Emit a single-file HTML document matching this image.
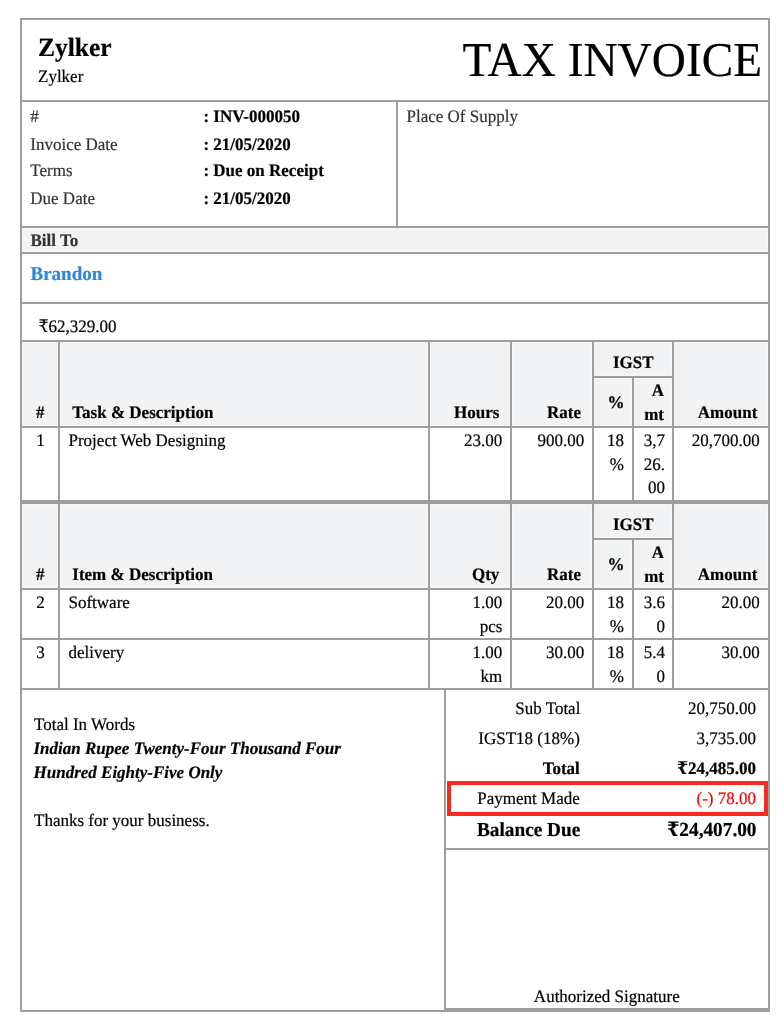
<!DOCTYPE html>
<html><head><meta charset="utf-8"><title>TAX INVOICE</title>
<style>
html,body{margin:0;padding:0;background:#fff;}
body{width:784px;height:1024px;overflow:hidden;}
svg{display:block;}
svg text{font-family:'Liberation Serif', 'DejaVu Serif Condensed', 'DejaVu Serif', serif;text-rendering:geometricPrecision;stroke:currentColor;stroke-width:0.2px;}
</style></head><body>
<svg width="784" height="1024" viewBox="0 0 784 1024">
<rect x="0" y="0" width="784" height="1024" fill="#fff"/>

<rect x="22" y="228" width="746" height="24" fill="#f6f7f8" shape-rendering="crispEdges"/>
<rect x="23" y="229" width="744" height="22" fill="#f2f3f4" shape-rendering="crispEdges"/>
<rect x="22" y="342" width="36" height="84" fill="#f6f7f8" shape-rendering="crispEdges"/>
<rect x="23" y="343" width="34" height="82" fill="#f2f3f4" shape-rendering="crispEdges"/>
<rect x="60" y="342" width="368" height="84" fill="#f6f7f8" shape-rendering="crispEdges"/>
<rect x="61" y="343" width="366" height="82" fill="#f2f3f4" shape-rendering="crispEdges"/>
<rect x="430" y="342" width="80" height="84" fill="#f6f7f8" shape-rendering="crispEdges"/>
<rect x="431" y="343" width="78" height="82" fill="#f2f3f4" shape-rendering="crispEdges"/>
<rect x="512" y="342" width="80" height="84" fill="#f6f7f8" shape-rendering="crispEdges"/>
<rect x="513" y="343" width="78" height="82" fill="#f2f3f4" shape-rendering="crispEdges"/>
<rect x="674" y="342" width="94" height="84" fill="#f6f7f8" shape-rendering="crispEdges"/>
<rect x="675" y="343" width="92" height="82" fill="#f2f3f4" shape-rendering="crispEdges"/>
<rect x="594" y="342" width="78" height="34" fill="#f6f7f8" shape-rendering="crispEdges"/>
<rect x="595" y="343" width="76" height="32" fill="#f2f3f4" shape-rendering="crispEdges"/>
<rect x="594" y="378" width="38" height="48" fill="#f6f7f8" shape-rendering="crispEdges"/>
<rect x="595" y="379" width="36" height="46" fill="#f2f3f4" shape-rendering="crispEdges"/>
<rect x="634" y="378" width="38" height="48" fill="#f6f7f8" shape-rendering="crispEdges"/>
<rect x="635" y="379" width="36" height="46" fill="#f2f3f4" shape-rendering="crispEdges"/>
<rect x="22" y="504" width="36" height="84" fill="#f6f7f8" shape-rendering="crispEdges"/>
<rect x="23" y="505" width="34" height="82" fill="#f2f3f4" shape-rendering="crispEdges"/>
<rect x="60" y="504" width="368" height="84" fill="#f6f7f8" shape-rendering="crispEdges"/>
<rect x="61" y="505" width="366" height="82" fill="#f2f3f4" shape-rendering="crispEdges"/>
<rect x="430" y="504" width="80" height="84" fill="#f6f7f8" shape-rendering="crispEdges"/>
<rect x="431" y="505" width="78" height="82" fill="#f2f3f4" shape-rendering="crispEdges"/>
<rect x="512" y="504" width="80" height="84" fill="#f6f7f8" shape-rendering="crispEdges"/>
<rect x="513" y="505" width="78" height="82" fill="#f2f3f4" shape-rendering="crispEdges"/>
<rect x="674" y="504" width="94" height="84" fill="#f6f7f8" shape-rendering="crispEdges"/>
<rect x="675" y="505" width="92" height="82" fill="#f2f3f4" shape-rendering="crispEdges"/>
<rect x="594" y="504" width="78" height="34" fill="#f6f7f8" shape-rendering="crispEdges"/>
<rect x="595" y="505" width="76" height="32" fill="#f2f3f4" shape-rendering="crispEdges"/>
<rect x="594" y="540" width="38" height="48" fill="#f6f7f8" shape-rendering="crispEdges"/>
<rect x="595" y="541" width="36" height="46" fill="#f2f3f4" shape-rendering="crispEdges"/>
<rect x="634" y="540" width="38" height="48" fill="#f6f7f8" shape-rendering="crispEdges"/>
<rect x="635" y="541" width="36" height="46" fill="#f2f3f4" shape-rendering="crispEdges"/>
<rect x="20" y="18" width="750" height="2" fill="#9e9e9e" shape-rendering="crispEdges"/>
<rect x="20" y="18" width="2" height="994" fill="#9e9e9e" shape-rendering="crispEdges"/>
<rect x="768" y="18" width="2" height="994" fill="#9e9e9e" shape-rendering="crispEdges"/>
<rect x="20" y="1010" width="426" height="2" fill="#9e9e9e" shape-rendering="crispEdges"/>
<rect x="444" y="1008" width="326" height="4" fill="#9e9e9e" shape-rendering="crispEdges"/>
<rect x="20" y="100" width="750" height="2" fill="#9e9e9e" shape-rendering="crispEdges"/>
<rect x="20" y="226" width="750" height="2" fill="#9e9e9e" shape-rendering="crispEdges"/>
<rect x="20" y="252" width="750" height="2" fill="#9e9e9e" shape-rendering="crispEdges"/>
<rect x="20" y="302" width="750" height="2" fill="#9e9e9e" shape-rendering="crispEdges"/>
<rect x="20" y="340" width="750" height="2" fill="#9e9e9e" shape-rendering="crispEdges"/>
<rect x="20" y="426" width="750" height="2" fill="#9e9e9e" shape-rendering="crispEdges"/>
<rect x="20" y="588" width="750" height="2" fill="#9e9e9e" shape-rendering="crispEdges"/>
<rect x="20" y="638" width="750" height="2" fill="#9e9e9e" shape-rendering="crispEdges"/>
<rect x="20" y="688" width="750" height="2" fill="#9e9e9e" shape-rendering="crispEdges"/>
<rect x="20" y="500" width="750" height="4" fill="#9e9e9e" shape-rendering="crispEdges"/>
<rect x="396" y="100" width="2" height="128" fill="#9e9e9e" shape-rendering="crispEdges"/>
<rect x="58" y="340" width="2" height="162" fill="#9e9e9e" shape-rendering="crispEdges"/>
<rect x="428" y="340" width="2" height="162" fill="#9e9e9e" shape-rendering="crispEdges"/>
<rect x="510" y="340" width="2" height="162" fill="#9e9e9e" shape-rendering="crispEdges"/>
<rect x="592" y="340" width="2" height="162" fill="#9e9e9e" shape-rendering="crispEdges"/>
<rect x="672" y="340" width="2" height="162" fill="#9e9e9e" shape-rendering="crispEdges"/>
<rect x="58" y="502" width="2" height="188" fill="#9e9e9e" shape-rendering="crispEdges"/>
<rect x="428" y="502" width="2" height="188" fill="#9e9e9e" shape-rendering="crispEdges"/>
<rect x="510" y="502" width="2" height="188" fill="#9e9e9e" shape-rendering="crispEdges"/>
<rect x="592" y="502" width="2" height="188" fill="#9e9e9e" shape-rendering="crispEdges"/>
<rect x="672" y="502" width="2" height="188" fill="#9e9e9e" shape-rendering="crispEdges"/>
<rect x="594" y="376" width="78" height="2" fill="#9e9e9e" shape-rendering="crispEdges"/>
<rect x="632" y="376" width="2" height="124" fill="#9e9e9e" shape-rendering="crispEdges"/>
<rect x="594" y="538" width="78" height="2" fill="#9e9e9e" shape-rendering="crispEdges"/>
<rect x="632" y="538" width="2" height="150" fill="#9e9e9e" shape-rendering="crispEdges"/>
<rect x="444" y="688" width="2" height="324" fill="#9e9e9e" shape-rendering="crispEdges"/>
<rect x="446" y="848" width="322" height="2" fill="#9e9e9e" shape-rendering="crispEdges"/>
<rect x="447" y="781" width="321" height="4" fill="#fb2a1c" shape-rendering="crispEdges"/>
<rect x="447" y="812" width="321" height="4" fill="#fb2a1c" shape-rendering="crispEdges"/>
<rect x="447" y="781" width="4" height="35" fill="#fb2a1c" shape-rendering="crispEdges"/>
<rect x="764" y="781" width="4" height="35" fill="#fb2a1c" shape-rendering="crispEdges"/>
<text transform="translate(38 56.1) scale(1 1.03)" font-size="25.5" font-weight="700">Zylker</text>
<text transform="translate(38 81.7) scale(1 1.03)" font-size="17">Zylker</text>
<text transform="translate(762.1 75.8) scale(1 1.03)" font-size="47.3" text-anchor="end">TAX INVOICE</text>
<text transform="translate(30.3 121.6) scale(1 1.03)" font-size="17" fill="#333333" color="#333333">#</text>
<text transform="translate(203.4 121.6) scale(1 1.03)" font-size="17" font-weight="700">: INV-000050</text>
<text transform="translate(30.3 149.6) scale(1 1.03)" font-size="17" fill="#333333" color="#333333">Invoice Date</text>
<text transform="translate(203.4 149.6) scale(1 1.03)" font-size="17" font-weight="700">: 21/05/2020</text>
<text transform="translate(30.3 175.6) scale(1 1.03)" font-size="17" fill="#333333" color="#333333">Terms</text>
<text transform="translate(203.4 175.6) scale(1 1.03)" font-size="17" font-weight="700">: Due on Receipt</text>
<text transform="translate(30.3 204.0) scale(1 1.03)" font-size="17" fill="#333333" color="#333333">Due Date</text>
<text transform="translate(203.4 204.0) scale(1 1.03)" font-size="17" font-weight="700">: 21/05/2020</text>
<text transform="translate(406.5 121.8) scale(1 1.03)" font-size="17" fill="#333333" color="#333333">Place Of Supply</text>
<text transform="translate(30.5 246) scale(1 1.03)" font-size="17" font-weight="700" fill="#333333" color="#333333">Bill To</text>
<text transform="translate(30.5 279.8) scale(1 1.03)" font-size="19" font-weight="700" fill="#2e86e0" color="#2e86e0">Brandon</text>
<text transform="translate(38.7 331.7) scale(1 1.03)" font-size="17">₹62,329.00</text>
<text transform="translate(40.3 417.7) scale(1 1.03)" font-size="17" text-anchor="middle" font-weight="700">#</text>
<text transform="translate(72.3 417.7) scale(1 1.03)" font-size="17" font-weight="700">Task &amp; Description</text>
<text transform="translate(499.3 417.7) scale(1 1.03)" font-size="17" text-anchor="end" font-weight="700">Hours</text>
<text transform="translate(581 417.7) scale(1 1.03)" font-size="17" text-anchor="end" font-weight="700">Rate</text>
<text transform="translate(633.2 367.8) scale(1 1.03)" font-size="17" text-anchor="middle" font-weight="700">IGST</text>
<text transform="translate(624.5 407.6) scale(1 1.03)" font-size="17" text-anchor="end" font-weight="700">%</text>
<text transform="translate(664 395.7) scale(1 1.03)" font-size="17" text-anchor="end" font-weight="700">A</text>
<text transform="translate(664 419.6) scale(1 1.03)" font-size="17" text-anchor="end" font-weight="700">mt</text>
<text transform="translate(757.3 417.7) scale(1 1.03)" font-size="17" text-anchor="end" font-weight="700">Amount</text>
<text transform="translate(40.3 579.7) scale(1 1.03)" font-size="17" text-anchor="middle" font-weight="700">#</text>
<text transform="translate(72.3 579.7) scale(1 1.03)" font-size="17" font-weight="700">Item &amp; Description</text>
<text transform="translate(499.3 579.7) scale(1 1.03)" font-size="17" text-anchor="end" font-weight="700">Qty</text>
<text transform="translate(581 579.7) scale(1 1.03)" font-size="17" text-anchor="end" font-weight="700">Rate</text>
<text transform="translate(633.2 529.8) scale(1 1.03)" font-size="17" text-anchor="middle" font-weight="700">IGST</text>
<text transform="translate(624.5 569.6) scale(1 1.03)" font-size="17" text-anchor="end" font-weight="700">%</text>
<text transform="translate(664 557.7) scale(1 1.03)" font-size="17" text-anchor="end" font-weight="700">A</text>
<text transform="translate(664 581.6) scale(1 1.03)" font-size="17" text-anchor="end" font-weight="700">mt</text>
<text transform="translate(757.3 579.7) scale(1 1.03)" font-size="17" text-anchor="end" font-weight="700">Amount</text>
<text transform="translate(40.5 445.7) scale(1 1.03)" font-size="17" text-anchor="middle">1</text>
<text transform="translate(68.5 445.7) scale(1 1.03)" font-size="17">Project Web Designing</text>
<text transform="translate(502.3 445.7) scale(1 1.03)" font-size="17" text-anchor="end">23.00</text>
<text transform="translate(584.3 445.7) scale(1 1.03)" font-size="17" text-anchor="end">900.00</text>
<text transform="translate(624 445.7) scale(1 1.03)" font-size="17" text-anchor="end">18</text>
<text transform="translate(665 445.7) scale(1 1.03)" font-size="17" text-anchor="end">3,7</text>
<text transform="translate(759.7 445.7) scale(1 1.03)" font-size="17" text-anchor="end">20,700.00</text>
<text transform="translate(624 469.5) scale(1 1.03)" font-size="17" text-anchor="end">%</text>
<text transform="translate(665 469.5) scale(1 1.03)" font-size="17" text-anchor="end">26.</text>
<text transform="translate(665 493.3) scale(1 1.03)" font-size="17" text-anchor="end">00</text>
<text transform="translate(40.5 607.7) scale(1 1.03)" font-size="17" text-anchor="middle">2</text>
<text transform="translate(68.5 607.7) scale(1 1.03)" font-size="17">Software</text>
<text transform="translate(502.3 607.7) scale(1 1.03)" font-size="17" text-anchor="end">1.00</text>
<text transform="translate(584.3 607.7) scale(1 1.03)" font-size="17" text-anchor="end">20.00</text>
<text transform="translate(624 607.7) scale(1 1.03)" font-size="17" text-anchor="end">18</text>
<text transform="translate(665 607.7) scale(1 1.03)" font-size="17" text-anchor="end">3.6</text>
<text transform="translate(759.7 607.7) scale(1 1.03)" font-size="17" text-anchor="end">20.00</text>
<text transform="translate(502.3 631.5) scale(1 1.03)" font-size="17" text-anchor="end">pcs</text>
<text transform="translate(624 631.5) scale(1 1.03)" font-size="17" text-anchor="end">%</text>
<text transform="translate(665 631.5) scale(1 1.03)" font-size="17" text-anchor="end">0</text>
<text transform="translate(40.5 657.7) scale(1 1.03)" font-size="17" text-anchor="middle">3</text>
<text transform="translate(68.5 657.7) scale(1 1.03)" font-size="17">delivery</text>
<text transform="translate(502.3 657.7) scale(1 1.03)" font-size="17" text-anchor="end">1.00</text>
<text transform="translate(584.3 657.7) scale(1 1.03)" font-size="17" text-anchor="end">30.00</text>
<text transform="translate(624 657.7) scale(1 1.03)" font-size="17" text-anchor="end">18</text>
<text transform="translate(665 657.7) scale(1 1.03)" font-size="17" text-anchor="end">5.4</text>
<text transform="translate(759.7 657.7) scale(1 1.03)" font-size="17" text-anchor="end">30.00</text>
<text transform="translate(502.3 681.5) scale(1 1.03)" font-size="17" text-anchor="end">km</text>
<text transform="translate(624 681.5) scale(1 1.03)" font-size="17" text-anchor="end">%</text>
<text transform="translate(665 681.5) scale(1 1.03)" font-size="17" text-anchor="end">0</text>
<text transform="translate(34 729.8) scale(1 1.03)" font-size="17">Total In Words</text>
<text transform="translate(33.5 753.6) scale(1 1.03)" font-size="17" font-weight="700" font-style="italic">Indian Rupee Twenty-Four Thousand Four</text>
<text transform="translate(33.5 778.2) scale(1 1.03)" font-size="17" font-weight="700" font-style="italic">Hundred Eighty-Five Only</text>
<text transform="translate(34 825.5) scale(1 1.03)" font-size="17">Thanks for your business.</text>
<text transform="translate(580.4 713.6) scale(1 1.03)" font-size="17" text-anchor="end">Sub Total</text>
<text transform="translate(756 713.6) scale(1 1.03)" font-size="17" text-anchor="end">20,750.00</text>
<text transform="translate(579.8 743.6) scale(1 1.03)" font-size="17" text-anchor="end">IGST18 (18%)</text>
<text transform="translate(756 743.6) scale(1 1.03)" font-size="17" text-anchor="end">3,735.00</text>
<text transform="translate(579.8 773.8) scale(1 1.03)" font-size="17" text-anchor="end" font-weight="700">Total</text>
<text transform="translate(756 773.8) scale(1 1.03)" font-size="17" text-anchor="end" font-weight="700">₹24,485.00</text>
<text transform="translate(579.8 803.6) scale(1 1.03)" font-size="17" text-anchor="end">Payment Made</text>
<text transform="translate(756 803.6) scale(1 1.03)" font-size="17" text-anchor="end" fill="#ff0000" color="#ff0000">(-) 78.00</text>
<text transform="translate(580.3 836) scale(1 1.03)" font-size="19.3" text-anchor="end" font-weight="700">Balance Due</text>
<text transform="translate(756.5 836) scale(1 1.03)" font-size="19.3" text-anchor="end" font-weight="700">₹24,407.00</text>
<text transform="translate(606.8 1002.4) scale(1 1.03)" font-size="17" text-anchor="middle">Authorized Signature</text>
</svg>
</body></html>
